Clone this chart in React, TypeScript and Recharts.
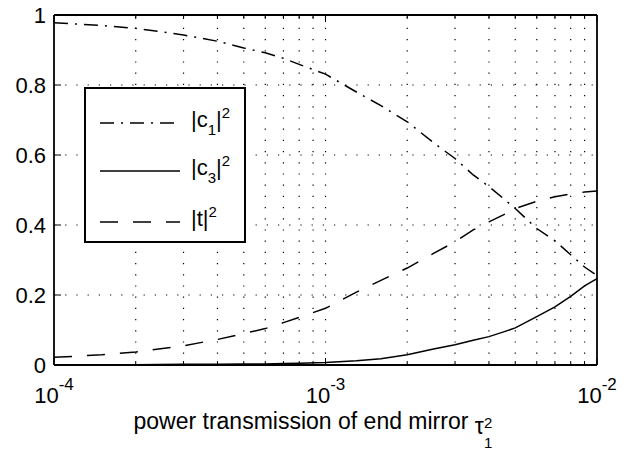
import React from 'react';
import { LineChart, Line, XAxis, YAxis, ReferenceLine, Legend } from 'recharts';

// power transmission of end mirror (x, log scale)
const transmission = [1e-4, 1.5e-4, 2e-4, 3e-4, 4e-4, 5e-4, 6e-4, 7e-4, 8e-4, 1e-3, 1.3e-3, 1.6e-3, 2e-3, 2.5e-3, 3e-3, 3.5e-3, 4e-3, 4.5e-3, 5e-3, 6e-3, 7e-3, 8e-3, 9e-3, 1e-2];
const c1Sq = [0.978, 0.970, 0.962, 0.943, 0.925, 0.906, 0.892, 0.876, 0.859, 0.831, 0.780, 0.741, 0.695, 0.635, 0.590, 0.543, 0.510, 0.477, 0.447, 0.390, 0.355, 0.315, 0.280, 0.256];
const c3Sq = [0.000, 0.001, 0.001, 0.002, 0.002, 0.003, 0.003, 0.004, 0.005, 0.007, 0.012, 0.018, 0.029, 0.046, 0.058, 0.071, 0.081, 0.094, 0.106, 0.138, 0.166, 0.196, 0.226, 0.247];
const tSq = [0.022, 0.029, 0.037, 0.055, 0.073, 0.090, 0.104, 0.121, 0.136, 0.162, 0.208, 0.242, 0.277, 0.319, 0.352, 0.386, 0.409, 0.428, 0.447, 0.468, 0.481, 0.489, 0.494, 0.497];

const majorX = [1e-4, 1e-3, 1e-2];
const minorX = [2e-4, 3e-4, 4e-4, 5e-4, 6e-4, 7e-4, 8e-4, 9e-4, 2e-3, 3e-3, 4e-3, 5e-3, 6e-3, 7e-3, 8e-3, 9e-3];
const yTicks = [0, 0.2, 0.4, 0.6, 0.8, 1];
const yTickLabels = ['0', '0.2', '0.4', '0.6', '0.8', '1'];
const gridX = [...minorX, 1e-3];
const gridY = [0.2, 0.4, 0.6, 0.8];
const allX = [...majorX, ...minorX];

const FONT = '"Liberation Sans", Arial, Helvetica, sans-serif';

const data = transmission.map((x, i) => ({ x, c1: c1Sq[i], c3: c3Sq[i], t: tSq[i] }));

const legendItems = [
  { key: 'c1', main: '|c', sub: '1', dash: '14 7 2 7' },
  { key: 'c3', main: '|c', sub: '3', dash: undefined },
  { key: 't', main: '|t', sub: '', dash: '18 15' },
];

function BottomTick(props: any) {
  const { x, y, payload } = props;
  const major = majorX.indexOf(payload.value) >= 0;
  const exp = Math.round(Math.log10(payload.value));
  return (
    <g>
      <line x1={x} x2={x} y1={y} y2={y - (major ? 7 : 4)} stroke="#000" strokeWidth={1} />
      {major && (
        <text x={x} y={y + 38} textAnchor="middle" fontSize={22} fontFamily={FONT} fill="#000">
          <tspan>10</tspan>
          <tspan fontSize={17} dy={-13}>{'-' + Math.abs(exp)}</tspan>
        </text>
      )}
    </g>
  );
}

function TopTick(props: any) {
  const { x, y, payload } = props;
  const major = majorX.indexOf(payload.value) >= 0;
  return <line x1={x} x2={x} y1={y} y2={y + (major ? 7 : 4)} stroke="#000" strokeWidth={1} />;
}

function LeftTick(props: any) {
  const { x, y, payload } = props;
  const idx = yTicks.indexOf(payload.value);
  return (
    <g>
      <line x1={x} x2={x + 7} y1={y} y2={y} stroke="#000" strokeWidth={1} />
      <text x={x - 8} y={y} dy="0.36em" textAnchor="end" fontSize={22} fontFamily={FONT} fill="#000">
        {yTickLabels[idx]}
      </text>
    </g>
  );
}

function RightTick(props: any) {
  const { x, y } = props;
  return <line x1={x} x2={x - 7} y1={y} y2={y} stroke="#000" strokeWidth={1} />;
}

function XLabel(props: any) {
  const vb = props.viewBox || { x: 54, y: 365, width: 543, height: 89 };
  const cx = vb.x + vb.width / 2;
  return (
    <text x={cx - 192} y={vb.y + 64} fontSize={23} fontFamily={FONT} fill="#000">
      <tspan>power transmission of end mirror </tspan>
      <tspan dy={5}>τ</tspan>
      <tspan fontSize={15} dy={14}>1</tspan>
      <tspan fontSize={15} dx={-8.3} dy={-20}>2</tspan>
    </text>
  );
}

function LegendBox() {
  const rows = [36, 84, 135];
  return (
    <svg width={162} height={156} style={{ display: 'block' }}>
      <rect x={1} y={1} width={160} height={154} fill="#fff" stroke="#000" strokeWidth={2} />
      {legendItems.map((it, i) => {
        const cy = rows[i];
        return (
          <g key={it.key}>
            <line x1={16} x2={96} y1={cy} y2={cy} stroke="#000" strokeWidth={1.5} strokeDasharray={it.dash} />
            <text x={107} y={cy + 4} fontSize={22} fontFamily={FONT} fill="#000">
              <tspan>{it.main}</tspan>
              {it.sub ? <tspan fontSize={15} dy={8}>{it.sub}</tspan> : null}
              <tspan dy={it.sub ? -8 : 0}>|</tspan>
              <tspan fontSize={15} dy={-9}>2</tspan>
            </text>
          </g>
        );
      })}
    </svg>
  );
}

export default function App() {
  return (
    <div style={{ position: 'absolute', left: 0, top: 0, width: 626, height: 454, background: '#fff' }}>
      <LineChart width={626} height={454} data={data} margin={{ top: 0, right: 0, bottom: 0, left: 0 }}>
        <XAxis
          dataKey="x"
          type="number"
          scale="log"
          domain={[1e-4, 1e-2]}
          allowDataOverflow
          ticks={allX}
          interval={0}
          tickSize={0}
          tickMargin={0}
          tick={<BottomTick />}
          height={89}
          axisLine={{ stroke: '#000', strokeWidth: 1.8 }}
          label={<XLabel />}
        />
        <XAxis
          xAxisId="top"
          orientation="top"
          dataKey="x"
          type="number"
          scale="log"
          domain={[1e-4, 1e-2]}
          allowDataOverflow
          ticks={allX}
          interval={0}
          tickSize={0}
          tickMargin={0}
          tick={<TopTick />}
          height={15}
          axisLine={{ stroke: '#000', strokeWidth: 1.8 }}
        />
        <YAxis
          type="number"
          domain={[0, 1]}
          ticks={yTicks}
          interval={0}
          tickSize={0}
          tickMargin={0}
          tick={<LeftTick />}
          width={54}
          axisLine={{ stroke: '#000', strokeWidth: 1.8 }}
        />
        <YAxis
          yAxisId="right"
          orientation="right"
          type="number"
          domain={[0, 1]}
          ticks={yTicks}
          interval={0}
          tickSize={0}
          tickMargin={0}
          tick={<RightTick />}
          width={29}
          axisLine={{ stroke: '#000', strokeWidth: 1.8 }}
        />
        {gridX.map((v) => (
          <ReferenceLine key={'gx' + v} x={v} stroke="#000" strokeWidth={1.2} strokeDasharray="1.2 10" />
        ))}
        {gridY.map((v) => (
          <ReferenceLine key={'gy' + v} y={v} stroke="#000" strokeWidth={1.2} strokeDasharray="1.2 10" />
        ))}
        <Legend
          layout="horizontal"
          verticalAlign="middle"
          align="center"
          content={<LegendBox />}
          wrapperStyle={{ position: 'absolute', left: 84, top: 87, width: 162, height: 156 }}
        />
        <Line dataKey="c1" type="linear" stroke="#000" strokeWidth={1.5} strokeDasharray="14 7 2 7" dot={false} isAnimationActive={false} />
        <Line dataKey="c3" type="linear" stroke="#000" strokeWidth={1.5} dot={false} isAnimationActive={false} />
        <Line dataKey="t" type="linear" stroke="#000" strokeWidth={1.5} strokeDasharray="18 15" dot={false} isAnimationActive={false} />
      </LineChart>
    </div>
  );
}
